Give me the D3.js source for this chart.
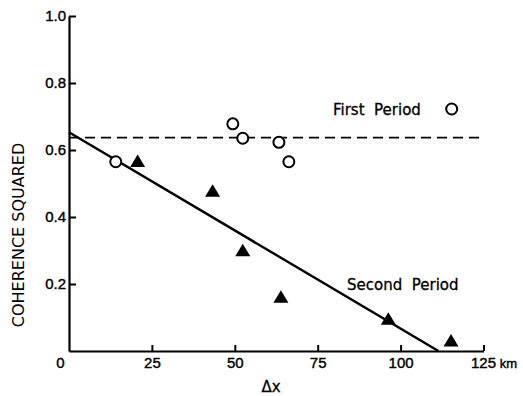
<!DOCTYPE html>
<html>
<head>
<meta charset="utf-8">
<script src="https://cdn.jsdelivr.net/npm/d3@7.9.0/dist/d3.min.js"></script>
<style>
  body { margin: 0; background: #fff; }
  svg { display: block; font-family: "DejaVu Sans", sans-serif; }
  .axis path, .axis line { stroke: #000; }
  .axis text { font-size: 15px; fill: #000; stroke: #000; stroke-width: 0.4px; }
  .note { stroke: #000; stroke-width: 0.3px; }
</style>
</head>
<body>
<div id="chart"></div>
<script>
// First period: open circles [distance km, coherence squared]
const firstPeriod = [
  [14.1, 0.565],
  [49.4, 0.678],
  [52.4, 0.635],
  [63.3, 0.623],
  [66.3, 0.565],
];

// Second period: filled triangles
const secondPeriod = [
  [20.7, 0.567],
  [43.3, 0.478],
  [52.4, 0.301],
  [63.9, 0.162],
  [96.3, 0.096],
  [115.2, 0.031],
];

const firstMean = 0.637;                   // dashed horizontal line
const secondFit = [[0, 0.653], [111.4, 0]]; // solid fitted line

const xTicks = [0, 25, 50, 75, 100, 125];
const yTicks = [0.2, 0.4, 0.6, 0.8, 1.0];
const yTickLabels = ['0.2', '0.4', '0.6', '0.8', '1.0'];

const width = 523;
const height = 396;

const svg = d3.select('#chart')
  .append('svg')
  .attr('width', width)
  .attr('height', height);

const xScale = d3.scaleLinear().domain([0, 125]).range([69, 483.5]);
const yScale = d3.scaleLinear().domain([0, 1]).range([351, 16]);

// X axis (ticks point up into the plot)
const xAxis = svg.append('g')
  .attr('class', 'axis')
  .attr('transform', `translate(0, ${yScale(0)})`)
  .call(d3.axisBottom(xScale)
    .tickValues(xTicks)
    .tickSize(-6)
    .tickSizeOuter(0)
    .tickPadding(6)
    .tickFormat(d3.format('d')));
xAxis.select('.domain').attr('stroke-width', 2.2);
xAxis.selectAll('.tick line').attr('stroke-width', 2);
xAxis.selectAll('.tick').filter(d => d === 0).select('line').remove();
xAxis.selectAll('.tick').filter(d => d === 0).select('text').attr('x', -9);
const lastTick = xAxis.selectAll('.tick').filter(d => d === 125).select('text')
  .attr('text-anchor', 'start')
  .attr('x', -13);
lastTick.append('tspan').attr('font-size', 13).text(' km');

// Y axis (ticks point right into the plot)
const yAxis = svg.append('g')
  .attr('class', 'axis')
  .attr('transform', `translate(${xScale(0)}, 0)`)
  .call(d3.axisLeft(yScale)
    .tickValues(yTicks)
    .tickSize(-7)
    .tickSizeOuter(0)
    .tickPadding(3)
    .tickFormat((d, i) => yTickLabels[i]));
yAxis.select('.domain').attr('stroke-width', 2.2);
yAxis.selectAll('.tick line').attr('stroke-width', 2);

// Axis titles
svg.append('text')
  .attr('transform', `translate(24, 235) rotate(-90)`)
  .attr('text-anchor', 'middle')
  .attr('font-size', 16)
  .text('COHERENCE SQUARED');

svg.append('text')
  .attr('class', 'note')
  .attr('x', 271)
  .attr('y', 392)
  .attr('text-anchor', 'middle')
  .attr('font-size', 15)
  .text('Δx');

// Dashed line: first period
svg.append('line')
  .attr('x1', xScale(0))
  .attr('x2', xScale(125))
  .attr('y1', yScale(firstMean))
  .attr('y2', yScale(firstMean))
  .attr('stroke', '#000')
  .attr('stroke-width', 1.8)
  .attr('stroke-dasharray', '10,6');

// Solid line: second period
svg.append('path')
  .datum(secondFit)
  .attr('d', d3.line().x(d => xScale(d[0])).y(d => yScale(d[1])))
  .attr('stroke', '#000')
  .attr('stroke-width', 2.4)
  .attr('fill', 'none');

// Circles
svg.append('g')
  .selectAll('circle')
  .data(firstPeriod)
  .join('circle')
  .attr('cx', d => xScale(d[0]))
  .attr('cy', d => yScale(d[1]))
  .attr('r', 5.5)
  .attr('fill', '#fff')
  .attr('stroke', '#000')
  .attr('stroke-width', 2);

// Triangles
const tri = 'M0,-6.5L7.5,6L-7.5,6Z';
svg.append('g')
  .selectAll('path')
  .data(secondPeriod)
  .join('path')
  .attr('transform', d => `translate(${xScale(d[0])}, ${yScale(d[1])})`)
  .attr('d', tri)
  .attr('fill', '#000');

// Labels
svg.append('text')
  .attr('class', 'note')
  .attr('x', 333)
  .attr('y', 115)
  .attr('font-size', 15)
  .style('white-space', 'pre')
  .text('First  Period');

svg.append('circle')
  .attr('cx', 451.7)
  .attr('cy', 109)
  .attr('r', 5.5)
  .attr('fill', '#fff')
  .attr('stroke', '#000')
  .attr('stroke-width', 2);

svg.append('text')
  .attr('class', 'note')
  .attr('x', 347)
  .attr('y', 290)
  .attr('font-size', 15)
  .style('white-space', 'pre')
  .text('Second  Period');
</script>
</body>
</html>
